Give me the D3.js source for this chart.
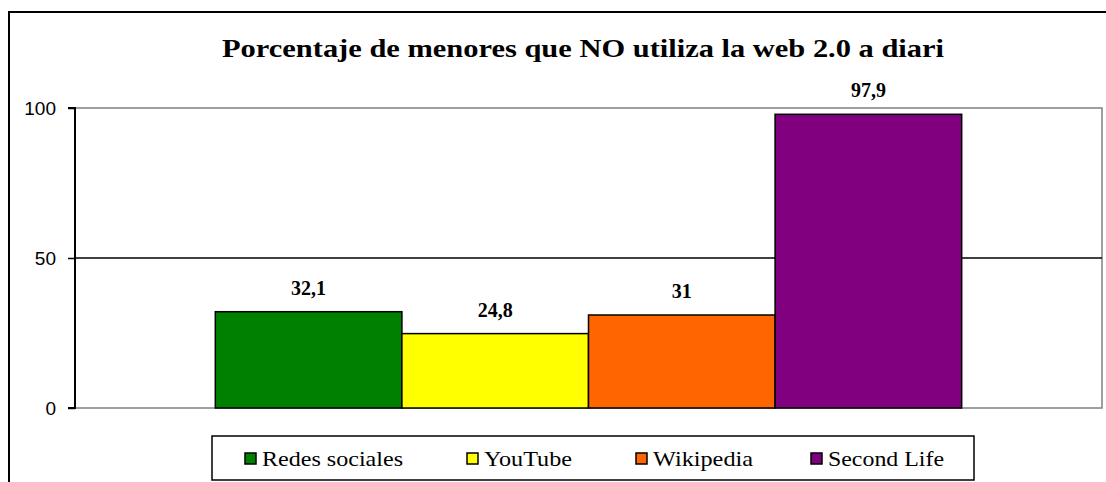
<!DOCTYPE html>
<html><head><meta charset="utf-8">
<script src="https://cdn.jsdelivr.net/npm/d3@7"></script>
<style>body{margin:0;background:#fff;}svg{display:block;}</style>
</head><body>
<script>
const titleText = "Porcentaje de menores que NO utiliza la web 2.0 a diari";
const series = ["Redes sociales", "YouTube", "Wikipedia", "Second Life"];
const values = [32.1, 24.8, 31, 97.9];
const labels = ["32,1", "24,8", "31", "97,9"];
const colors = ["#008000", "#ffff00", "#ff6600", "#800080"];
const yTicks = [0, 50, 100];

const SERIF = "'Liberation Serif', 'Times New Roman', serif";
const SANS = "'Liberation Sans', Arial, sans-serif";
const W = 1106, H = 482;
const svg = d3.select("body").append("svg").attr("width", W).attr("height", H);

// outer chart border
svg.append("rect").attr("x", 9).attr("y", 12).attr("width", 1200).attr("height", 600)
  .attr("fill", "none").attr("stroke", "#000").attr("stroke-width", 2);

const plot = {l: 75, r: 1102, t: 108, b: 408};
const y = d3.scaleLinear().domain([0, 100]).range([plot.b, plot.t]);
const xOuter = d3.scaleBand().domain(["g"]).range([plot.l, plot.r]).paddingInner(0).paddingOuter(0.188);
const x = d3.scaleBand().domain(series).range([xOuter("g"), xOuter("g") + xOuter.bandwidth()]).padding(0);

// plot area border (gray)
svg.append("rect").attr("x", plot.l).attr("y", plot.t).attr("width", plot.r - plot.l).attr("height", plot.b - plot.t)
  .attr("fill", "#fff").attr("stroke", "#808080").attr("stroke-width", 1.5);

// gridlines
svg.append("g").selectAll("line").data(yTicks.filter(d => d > 0 && d < 100)).join("line")
  .attr("x1", plot.l).attr("x2", plot.r).attr("y1", d => y(d)).attr("y2", d => y(d))
  .attr("stroke", "#000").attr("stroke-width", 1.5);

// bars
svg.append("g").selectAll("rect").data(series).join("rect")
  .attr("x", d => x(d)).attr("width", x.bandwidth())
  .attr("y", (d, i) => y(values[i])).attr("height", (d, i) => y(0) - y(values[i]))
  .attr("fill", (d, i) => colors[i]).attr("stroke", "#000").attr("stroke-width", 1.5);

// y axis
const yAxis = d3.axisLeft(y).tickValues(yTicks).tickSize(7).tickPadding(12);
const ga = svg.append("g").attr("transform", `translate(${plot.l},0)`).call(yAxis);
ga.select(".domain").attr("stroke", "#000").attr("stroke-width", 2).attr("d", `M-7,${plot.t}H0V${plot.b}H-7`);
ga.selectAll(".tick line").attr("stroke", "#000").attr("stroke-width", 1.5);
ga.selectAll(".tick text").attr("font-family", SANS).attr("font-size", 19).attr("fill", "#000");

// data labels
svg.append("g").selectAll("text").data(series).join("text")
  .attr("x", d => x(d) + x.bandwidth() / 2).attr("y", (d, i) => y(values[i]) - 17)
  .attr("text-anchor", "middle").attr("font-family", SERIF)
  .attr("font-weight", "bold").attr("font-size", 20).text((d, i) => labels[i]);

// title
svg.append("text").attr("x", 222).attr("y", 57)
  .attr("font-family", SERIF).attr("font-weight", "bold")
  .attr("font-size", 26).attr("textLength", 722).attr("lengthAdjust", "spacingAndGlyphs").text(titleText);

// legend
const lg = svg.append("g");
lg.append("rect").attr("x", 212).attr("y", 436).attr("width", 762).attr("height", 44)
  .attr("fill", "#fff").attr("stroke", "#000").attr("stroke-width", 1.5);
const legX = [245, 467, 636, 811];
const legW = [141, 88, 100, 116];
const items = lg.selectAll("g.item").data(series).join("g").attr("class", "item")
  .attr("transform", (d, i) => `translate(${legX[i]},453)`);
items.append("rect").attr("width", 11).attr("height", 11).attr("fill", (d, i) => colors[i])
  .attr("stroke", "#000").attr("stroke-width", 1.5);
items.append("text").attr("x", 17).attr("y", 13).attr("font-family", SERIF)
  .attr("font-size", 21).attr("textLength", (d, i) => legW[i]).attr("lengthAdjust", "spacingAndGlyphs").text(d => d);
</script>
</body></html>
